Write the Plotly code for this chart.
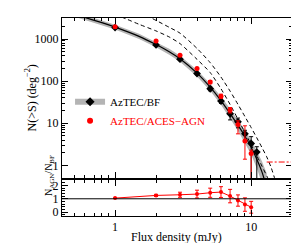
import plotly.graph_objects as go

# ---------------- data ----------------
# best-fit model curve (AzTEC/BF) and its uncertainty band
model_s = [0.5, 0.6, 0.8, 1, 1.5, 2, 2.5, 3, 4, 5, 6, 7, 8, 9, 10, 11, 12, 13]
model_n = [3900, 3250, 2450, 1920, 1160, 740, 500, 340, 155, 72, 34.5, 17, 9, 4.9, 2.7, 1.4, 0.7, 0.3]
band_hi = [4450, 3700, 2800, 2200, 1340, 860, 585, 400, 185, 87, 43, 22, 12, 6.8, 4.0, 2.2, 1.25, 0.65]
band_lo = [3400, 2850, 2150, 1680, 1000, 635, 425, 287, 129, 59, 27.5, 13, 6.6, 3.4, 1.8, 0.85, 0.38, 0.12]

# literature curves (dashed)
d1_s = [1.0, 1.2, 1.5, 2, 2.5, 3, 4, 5, 6, 7, 8, 9, 10, 11, 12, 13.1, 14]
d1_n = [3840, 3030, 2240, 1560, 1120, 780, 330, 160, 66, 28, 12.5, 6.0, 3.1, 1.7, 0.96, 0.54, 0.34]
d2_s = [1.7, 2, 2.5, 3, 4, 5, 6, 7, 8, 9, 10, 11, 12, 13, 14, 15, 15.5]
d2_n = [3620, 2770, 1900, 1380, 600, 275, 125, 58, 28, 14.4, 7.9, 4.5, 2.65, 1.6, 0.9, 0.45, 0.3]

# AzTEC/BF counts
bf_s = [1, 2, 3, 4, 5, 6, 7, 8, 9, 10, 11]
bf_n = [1870, 725, 333, 151, 66, 33.6, 16.8, 10.8, 5.6, 3.3, 2.07]
bf_up = [50, 20, 15, 10, 7, 4, 3, 2.5, 1.2, 1.5, 0.7]
bf_lo = [50, 20, 15, 10, 7, 4, 4.8, 3, 1.8, 3.1, 1.9]

# AzTEC/ACES-AGN counts
agn_s = [1, 2, 3, 4, 5, 6, 7, 8, 9, 10]
agn_n = [1960, 900, 413, 199, 95, 44, 20.6, 9.4, 3.8, 1.9]
agn_up = [0, 20, 15, 12, 8, 5, 3, 2, 4.9, 0.4]
agn_lo = [0, 20, 15, 12, 8, 5, 3, 3.8, 2.4, 1.75]

# upper-limit line (dash-dot)
lim_s = [13, 20]
lim_n = [1.2, 1.2]

# ratio N_AGN / N_BF
ratio_s = [1, 2, 3, 4, 5, 6, 7, 8, 9, 10]
ratio = [1.05, 1.25, 1.3, 1.35, 1.45, 1.5, 1.2, 0.87, 0.57, 0.37]
ratio_err = [0.0, 0.08, 0.19, 0.29, 0.34, 0.4, 0.5, 0.42, 0.5, 0.44]

x_ticks = [1, 10]
x_minor = [0.5, 0.6, 0.7, 0.8, 0.9, 2, 3, 4, 5, 6, 7, 8, 9, 20]
y_ticks = [1, 10, 100, 1000]
y_minor = [v * d for d in (1, 10, 100, 1000) for v in (2, 3, 4, 5, 6, 7, 8, 9)]
r_ticks = [0, 1, 2]

RED = "#ff0000"
GREY = "#b4b4b4"
FONT = "Liberation Serif"

fig = go.Figure()

# band
fig.add_trace(go.Scatter(x=model_s + model_s[::-1], y=band_hi + band_lo[::-1],
                         fill="toself", fillcolor=GREY, line=dict(width=0),
                         mode="lines", showlegend=False, xaxis="x2", yaxis="y2",
                         hoverinfo="skip"))
# model line
fig.add_trace(go.Scatter(x=model_s, y=model_n, mode="lines",
                         line=dict(color="black", width=1.2, shape="spline", smoothing=0.6),
                         showlegend=False, xaxis="x2", yaxis="y2"))
# dashed curves
for xs, ys in ((d1_s, d1_n), (d2_s, d2_n)):
    fig.add_trace(go.Scatter(x=xs, y=ys, mode="lines",
                             line=dict(color="black", width=1, dash="4px,3px",
                                       shape="spline", smoothing=0.6),
                             showlegend=False, xaxis="x2", yaxis="y2"))
# upper limit
fig.add_trace(go.Scatter(x=lim_s, y=lim_n, mode="lines",
                         line=dict(color=RED, width=1, dash="6px,2px,2px,2px"),
                         showlegend=False, xaxis="x2", yaxis="y2"))
# BF points
fig.add_trace(go.Scatter(x=bf_s, y=bf_n, mode="markers",
                         marker=dict(color="black", symbol="diamond", size=6),
                         error_y=dict(type="data", symmetric=False, array=bf_up,
                                      arrayminus=bf_lo, color="black", thickness=1, width=2),
                         showlegend=False, xaxis="x2", yaxis="y2"))
# AGN points
fig.add_trace(go.Scatter(x=agn_s, y=agn_n, mode="markers",
                         marker=dict(color=RED, symbol="circle", size=5),
                         error_y=dict(type="data", symmetric=False, array=agn_up,
                                      arrayminus=agn_lo, color=RED, thickness=1, width=2),
                         showlegend=False, xaxis="x2", yaxis="y2"))
# legend entries
fig.add_trace(go.Scatter(x=[None], y=[None], mode="lines+markers", name="AzTEC/BF",
                         line=dict(color=GREY, width=6),
                         marker=dict(color="black", symbol="diamond", size=7),
                         xaxis="x2", yaxis="y2"))
fig.add_trace(go.Scatter(x=[None], y=[None], mode="markers",
                         name="<span style='color:#ff0000'>AzTEC/ACES\u2212AGN</span>",
                         marker=dict(color=RED, symbol="circle", size=6),
                         xaxis="x2", yaxis="y2"))

# ratio panel
fig.add_hline(y=1, line=dict(color="black", width=1), xref="x", yref="y")
fig.add_trace(go.Scatter(x=ratio_s, y=ratio, mode="lines+markers",
                         line=dict(color=RED, width=1),
                         marker=dict(color=RED, symbol="circle", size=4),
                         error_y=dict(type="data", array=ratio_err, color=RED,
                                      thickness=1, width=2),
                         showlegend=False, xaxis="x", yaxis="y"))

axis_common = dict(showline=True, linecolor="black", linewidth=1, mirror="allticks",
                   ticks="inside", tickcolor="black", showgrid=False, zeroline=False,
                   tickfont=dict(family=FONT, size=12, color="black"))

fig.update_layout(
    width=299, height=243,
    margin=dict(l=54, r=15, t=10, b=35),
    paper_bgcolor="white", plot_bgcolor="white",
    font=dict(family=FONT, size=12, color="black"),
    xaxis=dict(type="log", range=[-0.39, 1.30], anchor="y", domain=[0, 1],
               tickvals=x_ticks, ticktext=["1", "10"], ticklen=6,
               minor=dict(tickvals=x_minor, ticks="inside", ticklen=3, tickcolor="black"),
               **axis_common),
    xaxis2=dict(type="log", range=[-0.39, 1.30], anchor="y2", matches="x",
                tickvals=x_ticks, showticklabels=False, ticklen=6,
                minor=dict(tickvals=x_minor, ticks="inside", ticklen=3, tickcolor="black"),
                **axis_common),
    yaxis=dict(range=[-0.28, 2.4], domain=[0, 0.182], anchor="x",
               tickvals=r_ticks, ticklen=6,
               minor=dict(dtick=0.2, ticks="inside", ticklen=3, tickcolor="black"),
               **axis_common),
    yaxis2=dict(type="log", range=[-0.3, 3.5], domain=[0.192, 1], anchor="x2",
                tickvals=y_ticks, ticktext=["1", "10", "100", "1000"], ticklen=6,
                minor=dict(tickvals=y_minor, ticks="inside", ticklen=3, tickcolor="black"),
                **axis_common),
    legend=dict(x=0.035, y=0.65, xanchor="left", yanchor="top",
                bgcolor="rgba(0,0,0,0)", font=dict(family=FONT, size=11, color="black"),
                itemwidth=30, tracegroupgap=0),
    annotations=[
        dict(text="N(>S) (deg<sup>\u22122</sup>)", xref="paper", yref="paper",
             x=-0.174, y=0.596, textangle=-90, showarrow=False,
             font=dict(family=FONT, size=12)),
        dict(text="N<sub>AGN</sub>/N<sub>BF</sub>", xref="paper", yref="paper",
             x=-0.091, y=0.091, textangle=-90, showarrow=False,
             font=dict(family=FONT, size=10)),
        dict(text="Flux density (mJy)", xref="paper", yref="paper",
             x=0.496, y=-0.062, showarrow=False, yanchor="top",
             font=dict(family=FONT, size=12)),
    ],
)

fig.write_html("out.html")
